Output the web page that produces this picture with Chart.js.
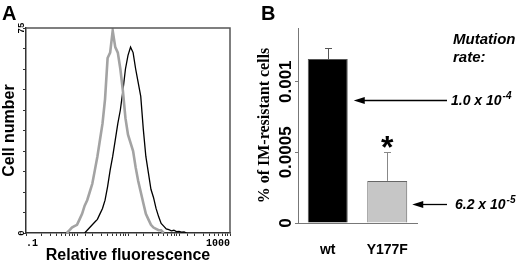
<!DOCTYPE html>
<html><head><meta charset="utf-8">
<script src="https://cdn.jsdelivr.net/npm/chart.js@4.4.1/dist/chart.umd.min.js"></script>
<style>
html,body{margin:0;padding:0;background:#fff;width:520px;height:265px;overflow:hidden}
#wa{position:absolute;left:0;top:0;width:260px;height:265px}
#wb{position:absolute;left:255px;top:0;width:265px;height:265px}
</style></head><body>
<div id="wa"><canvas id="ca" width="260" height="265"></canvas></div>
<div id="wb"><canvas id="cb" width="265" height="265"></canvas></div>
<script>
// ---------- Panel A: flow cytometry histograms ----------
const fluorescence = [0.631,0.708,0.794,0.891,1.0,1.122,1.259,1.413,1.585,1.778,1.995,2.239,2.512,2.818,3.162,3.548,3.981,4.467,5.012,5.623,6.310,7.079,7.943,8.913,10,11.22,12.59,14.13,15.85,17.78,19.95,22.39,25.12,28.18,31.62,35.48,39.81,44.67,50.12,56.23,63.10,70.79,79.43,89.13,100,112.2,125.9,141.3];
const grayCounts = [0,1,2,2.5,3,5,7,10,12,15,18,23,28,34,40,49,64,66,74,68,66,60,52,42,36,33,30,24,19,15,11,7,5,3,2,1.5,1,1,0,null,null,null,null,null,null,null,null,null];
const blackCounts = [null,null,null,null,null,null,null,0,1,2,3,4,5,7,9,12,17,23,28,34,40,45,52,60,65,68,66,60,55,50,38,28,22,16,13,9,6,3.5,2.5,1.5,1.2,0.8,1,0.5,0.6,0.3,0.4,0];
const xTickLabelsA = ['.1','1000'];
const yTickLabelsA = ['0','75'];

// ---------- Panel B: IM-resistant cells ----------
const categories = ['wt','Y177F'];
const resistantPct = [0.00116, 0.000298];
const resistantErr = [0.00008, 0.000206];
const significance = ['', '*'];
const yTicksB = [0, 0.0005, 0.001];
const yTickLabelsB = ['0','0.0005','0.001'];
const mutationRates = [['1.0 x 10','-4'],['6.2 x 10','-5']];
const arrowLevels = [0.00087, 0.000134];

const SANS = '"Liberation Sans", Arial, sans-serif';
const MONO = '"Liberation Mono", "DejaVu Sans Mono", monospace';
const SERIF = '"Liberation Serif", "Times New Roman", serif';

const decorA = {
  id:'decorA',
  afterDraw(chart){
    const ctx = chart.ctx, a = chart.chartArea;
    ctx.save();
    ctx.strokeStyle = '#555'; ctx.lineWidth = 1.5;
    ctx.beginPath();
    ctx.moveTo(a.left, a.top); ctx.lineTo(a.right, a.top); ctx.lineTo(a.right, a.bottom);
    ctx.stroke();
    ctx.fillStyle = '#000';
    ctx.font = 'bold 20px ' + SANS;
    ctx.textBaseline = 'alphabetic'; ctx.textAlign = 'left';
    ctx.fillText('A', 2, 20);
    ctx.restore();
  }
};

new Chart(document.getElementById('ca'), {
  type: 'line',
  data: {
    datasets: [
      {label:'control', data: fluorescence.map((x,i)=>({x:x, y:grayCounts[i]})), borderColor:'#a3a3a3', borderWidth:2.6, pointRadius:0, fill:false, spanGaps:false, tension:0},
      {label:'sample', data: fluorescence.map((x,i)=>({x:x, y:blackCounts[i]})), borderColor:'#000', borderWidth:1.3, pointRadius:0, fill:false, spanGaps:false, tension:0}
    ]
  },
  options: {
    responsive:false, animation:false, events:[],
    layout:{padding:{left:0,right:30,top:28,bottom:0}},
    plugins:{legend:{display:false}, tooltip:{enabled:false}},
    scales:{
      x:{type:'logarithmic', min:0.1, max:1000,
        afterFit(s){ s.height = 32; },
        grid:{display:true, drawOnChartArea:false, drawTicks:true, tickLength:3, color:'#333', lineWidth:1},
        border:{display:true, color:'#333', width:1.5},
        ticks:{autoSkip:false, minRotation:0, maxRotation:0, align:'inner', padding:1, color:'#000',
          font:{family:MONO, size:10, weight:'bold'},
          callback:(v,i,t)=> i===0 ? xTickLabelsA[0] : (i===t.length-1 ? xTickLabelsA[1] : '')},
        title:{display:true, text:'Relative fluorescence', color:'#000', font:{family:SANS, size:16, weight:'bold'}, padding:{top:-2,bottom:0}}
      },
      y:{min:0, max:75,
        afterFit(s){ s.width = 26; },
        grid:{display:true, drawOnChartArea:false, drawTicks:true, tickLength:3, color:'#333', lineWidth:1},
        border:{display:true, color:'#333', width:1.5},
        ticks:{stepSize:7.5, autoSkip:false, minRotation:90, maxRotation:90, crossAlign:'center', padding:-4, color:'#000',
          font:{family:MONO, size:9, weight:'bold'},
          callback:(v,i,t)=> i===0 ? yTickLabelsA[0] : (i===t.length-1 ? yTickLabelsA[1] : '')},
        title:{display:true, text:'Cell number', color:'#000', font:{family:SANS, size:16, weight:'bold'}, padding:{top:0,bottom:0}}
      }
    }
  },
  plugins:[decorA]
});

const decorB = {
  id:'decorB',
  afterDatasetsDraw(chart){
    const ctx = chart.ctx, ys = chart.scales.y, meta = chart.getDatasetMeta(0);
    ctx.save();
    meta.data.forEach((bar,i)=>{
      const top = Math.round(ys.getPixelForValue(resistantPct[i] + resistantErr[i])) + 0.5;
      const x = Math.round(bar.x) + 0.5;
      ctx.strokeStyle = i===0 ? '#555' : '#888'; ctx.lineWidth = 1;
      ctx.beginPath();
      ctx.moveTo(x, bar.y); ctx.lineTo(x, top);
      ctx.moveTo(x-3.5, top); ctx.lineTo(x+3.5, top);
      ctx.stroke();
      if (significance[i]) {
        ctx.fillStyle = '#000';
        ctx.font = 'bold 32px ' + SANS;
        ctx.textAlign = 'center'; ctx.textBaseline = 'alphabetic';
        const m = ctx.measureText(significance[i]);
        const cy = top - 11;
        const base = cy + (m.actualBoundingBoxAscent - m.actualBoundingBoxDescent)/2;
        ctx.fillText(significance[i], bar.x, base);
      }
    });
    ctx.restore();
  },
  afterDraw(chart){
    const ctx = chart.ctx, ys = chart.scales.y, meta = chart.getDatasetMeta(0);
    ctx.save();
    ctx.fillStyle = '#000';
    ctx.font = 'bold 20px ' + SANS;
    ctx.textAlign = 'left'; ctx.textBaseline = 'alphabetic';
    ctx.fillText('B', 6, 20);
    ctx.font = 'italic bold 15px ' + SANS;
    ctx.fillText('Mutation', 198, 44);
    ctx.fillText('rate:', 198, 62);
    const gaps = [6, 5];
    const textX = [196, 200];
    meta.data.forEach((bar,i)=>{
      const y = Math.round(ys.getPixelForValue(arrowLevels[i])) + 0.5;
      const tip = bar.x + bar.width/2 + gaps[i];
      const end = 192;
      ctx.strokeStyle = '#000'; ctx.lineWidth = 1.3;
      ctx.beginPath(); ctx.moveTo(tip+8, y); ctx.lineTo(end, y); ctx.stroke();
      ctx.beginPath(); ctx.moveTo(tip, y); ctx.lineTo(tip+11, y-3.5); ctx.lineTo(tip+11, y+3.5); ctx.closePath(); ctx.fill();
      ctx.font = 'italic bold 14px ' + SANS;
      ctx.fillText(mutationRates[i][0], textX[i], y + 4.5);
      const w = ctx.measureText(mutationRates[i][0]).width;
      ctx.font = 'italic bold 10px ' + SANS;
      ctx.fillText(mutationRates[i][1], textX[i] + w + 1, y - 1.5);
    });
    ctx.restore();
  }
};

new Chart(document.getElementById('cb'), {
  type:'bar',
  data:{labels:categories, datasets:[{data:resistantPct, backgroundColor:['#000','#c6c6c6'], borderColor:['#555','#666'], borderWidth:1, barPercentage:0.672, categoryPercentage:1}]},
  options:{
    responsive:false, animation:false, events:[],
    layout:{padding:{left:0,right:103,top:28,bottom:0}},
    plugins:{legend:{display:false}, tooltip:{enabled:false}},
    scales:{
      x:{afterFit(s){ s.height = 42; },
        grid:{display:false},
        border:{display:true, color:'#777', width:1},
        ticks:{padding:11, color:'#000', font:{family:SANS, size:14, weight:'bold'}}},
      y:{min:0, max:0.00138,
        afterFit(s){ s.width = 43; },
        afterBuildTicks(s){ s.ticks = yTicksB.map(v=>({value:v})); },
        grid:{display:true, drawOnChartArea:false, drawTicks:true, tickLength:3, color:'#777'},
        border:{display:true, color:'#777', width:1},
        ticks:{autoSkip:false, minRotation:90, maxRotation:90, crossAlign:'center', padding:-17, color:'#000',
          font:{family:SANS, size:17, weight:'bold'},
          callback:(v,i)=> yTickLabelsB[i]},
        title:{display:true, text:'% of IM-resistant cells', color:'#000', font:{family:SERIF, size:16, weight:'bold'}, padding:{top:0,bottom:0}}
      }
    }
  },
  plugins:[decorB]
});
</script>
</body></html>
